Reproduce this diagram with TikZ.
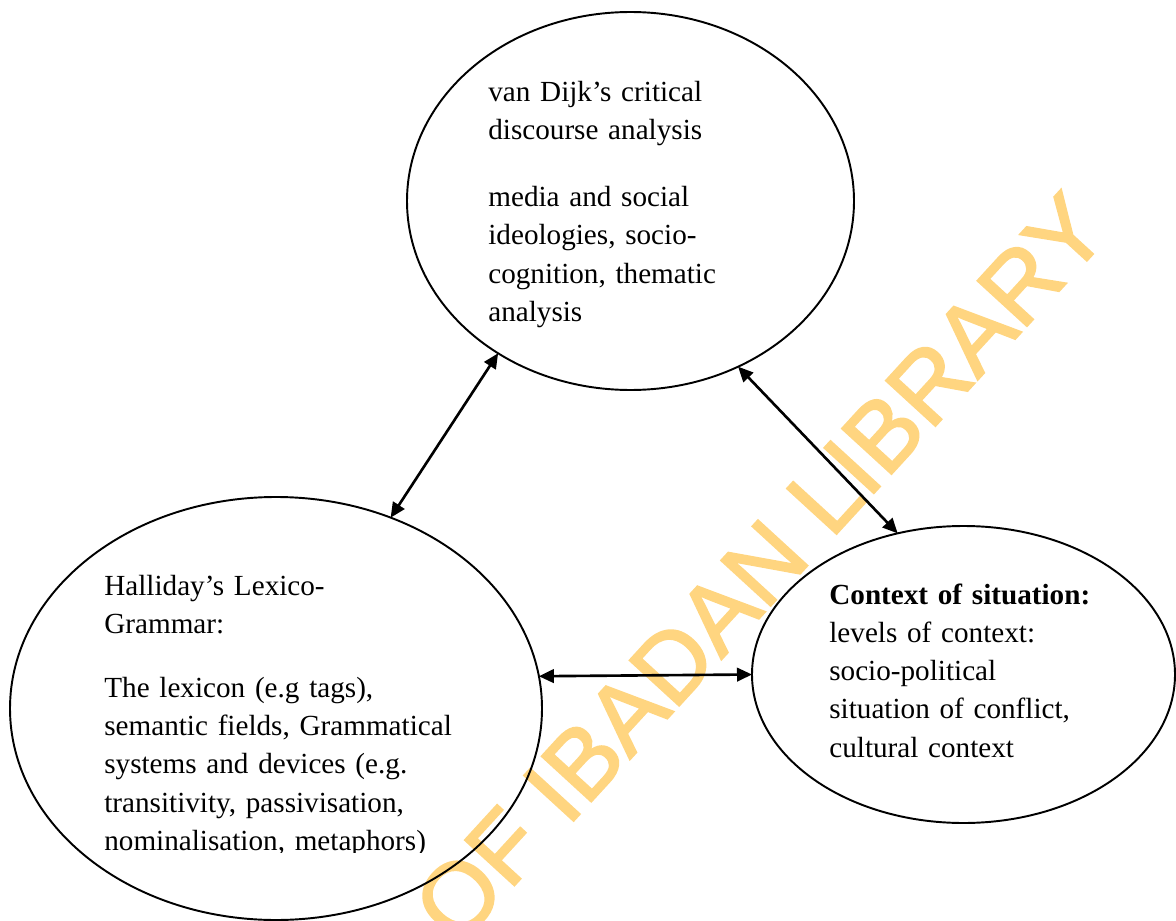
\documentclass[tikz,border=0pt]{standalone}
\usepackage{fontspec}
\setmainfont{Liberation Serif}
\newfontfamily\wmfont[FakeBold=2]{Liberation Sans}
\usetikzlibrary{shapes.geometric, arrows.meta}
\definecolor{wmorange}{RGB}{255,213,128}

\begin{document}
\begin{tikzpicture}[scale=1,
		bubble/.style={draw, ellipse, line width=1.1pt, inner sep=0pt, outer sep=0pt},
		txt/.style={anchor=base west, inner sep=0pt, text width=8cm, align=left, font=\fontsize{16.6}{21.8}\selectfont},
		link/.style={{Triangle[length=0.3cm, width=0.27cm]}-{Triangle[length=0.3cm, width=0.27cm]}, line width=1.5pt}]
		\useasboundingbox (0,0) rectangle (23.52,-18.42);
		\node[rotate=47.5, anchor=base west, inner sep=0pt, text=wmorange, font=\wmfont\fontsize{55.5}{60}\selectfont] (wm) at (9.15,-18.95) {OF IBADAN LIBRARY};
		
		\node[bubble, minimum width=8.94cm, minimum height=7.56cm] (n1) at (12.61,-4.02) {};
		\node[bubble, minimum width=10.64cm, minimum height=8.46cm] (n2) at (5.52,-14.17) {};
		\node[bubble, minimum width=8.46cm, minimum height=5.94cm] (n3) at (19.27,-13.49) {};
		
		\node[txt] (t1) at (9.76,-2.03) {van Dijk’s critical\\ discourse analysis\\[0.57cm] media and social\\ ideologies, socio-\\ cognition, thematic\\ analysis};
		\begin{scope}
		\clip (0,0) rectangle (23.52,-17.04);
		\node[txt] (t2) at (2.08,-11.9) {Halliday’s Lexico-\\ Grammar:\\[0.51cm] The lexicon (e.g tags),\\ semantic fields, Grammatical\\ systems and devices (e.g.\\ transitivity, passivisation,\\ nominalisation, metaphors)};
		\end{scope}
		\node[txt] (t3) at (16.58,-12.08) {\textbf{Context of situation:}\\ levels of context:\\ socio-political\\ situation of conflict,\\ cultural context};
		
		\draw[link] (n1.229) -- (n2.59);
		\draw[link] (n1.303) -- (n3.115);
		\draw[link] (n2.7) -- (n3.180);
\end{tikzpicture}
\end{document}
